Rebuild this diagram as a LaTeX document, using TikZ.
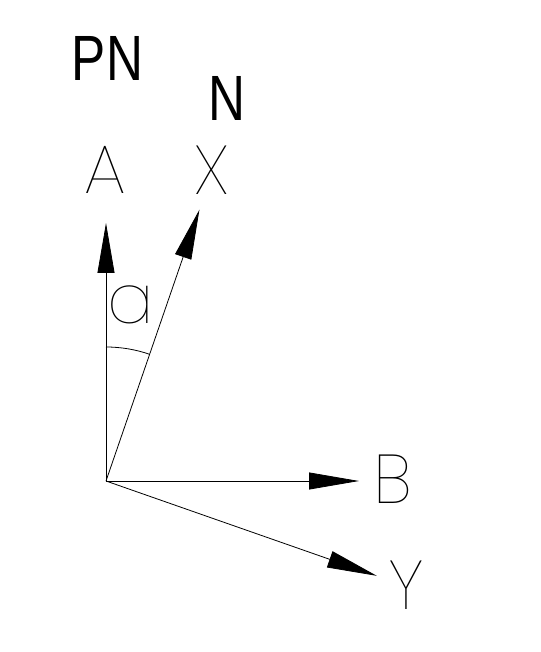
\documentclass[tikz,border=0pt]{standalone}
\usepackage{fontspec}
\setmainfont{Liberation Sans}
\IfFontExistsTF{Poppins Thin}{\newfontfamily\cadfont{Poppins Thin}}{%
  \IfFontExistsTF{Lato Hairline}{\newfontfamily\cadfont{Lato Hairline}}{%
    \IfFontExistsTF{DejaVu Sans ExtraLight}{\newfontfamily\cadfont{DejaVu Sans ExtraLight}}{%
      \newfontfamily\cadfont{Liberation Sans}}}}
\usepackage{tikz}
\usetikzlibrary{arrows.meta,calc}

\begin{document}
\begin{tikzpicture}[x=1pt,y=1pt]

	\tikzstyle axis lines=[line width=0.8pt, -{Triangle[length=50pt,width=17pt]}];
	\tikzstyle angle lines=[line width=0.8pt];
	\tikzstyle axis labels=[inner sep=0pt, font=\cadfont\fontsize{69}{69}\selectfont];
	\tikzstyle north labels=[inner sep=0pt, xscale=0.8, font=\fontsize{64}{64}\selectfont];

	\useasboundingbox (0,0) rectangle (540,652);

	\coordinate (O) at (106,171);

	% axes and their letters
	\foreach \name/\ang/\len/\lx/\ly in {A/90/258/105.7/482, X/71/287/212/482, B/0/253/393/173, Y/-19.3/287/406/67}
	{
		\coordinate (tip\name) at ($(O)+(\ang:\len)$);
		\draw[axis lines] (O) -- (tip\name);
		\node[axis labels] (lab\name) at (\lx,\ly) {\name};
	}

	% angle between A and X
	\coordinate (arcA) at ($(O)+(90:134)$);
	\draw[angle lines] (arcA) arc[start angle=90, end angle=71, radius=134];
	\node[axis labels] (alpha) at (131,347) {a};

	\node[north labels] (pn) at (107.5,594) {PN};
	\node[north labels] (n) at (227,554) {N};

\end{tikzpicture}
\end{document}
